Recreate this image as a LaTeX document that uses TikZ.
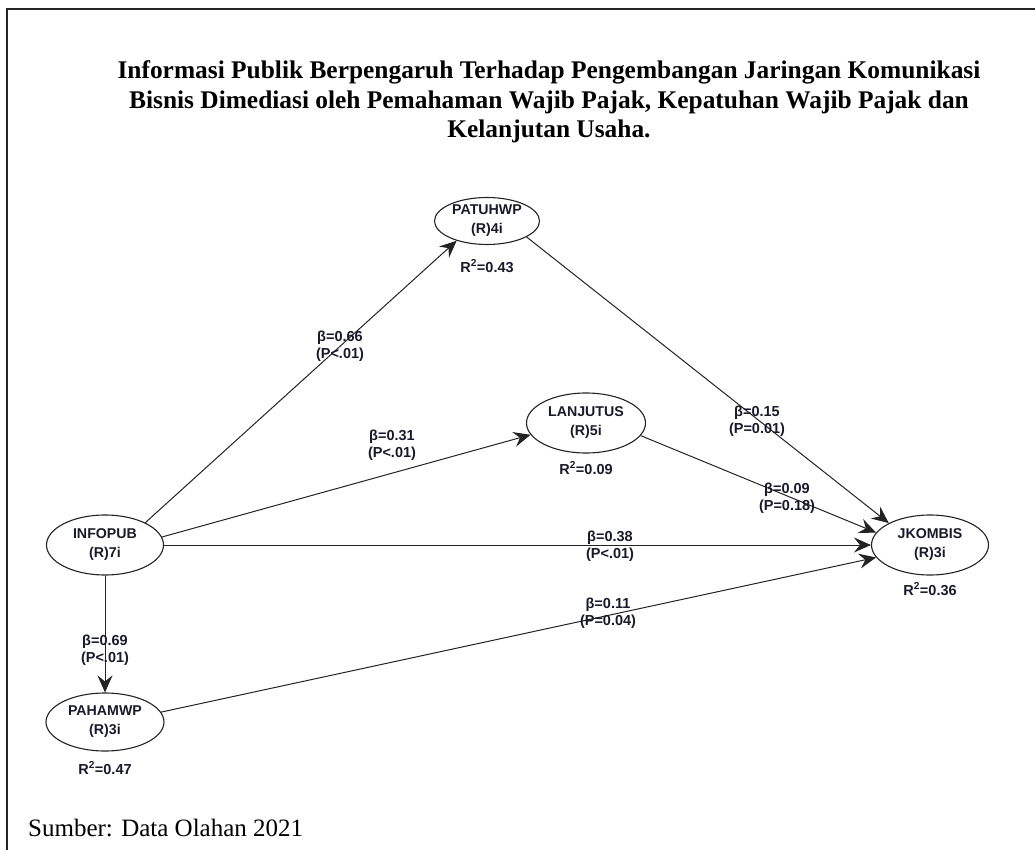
\documentclass[tikz,border=0pt]{standalone}
\usepackage{fontspec}
\setmainfont{Liberation Serif}
\newfontfamily\lblfont{Liberation Sans}
\usetikzlibrary{arrows.meta,shapes.geometric}
\definecolor{ink}{RGB}{25,25,45}
\definecolor{edgecol}{RGB}{35,35,35}
\begin{document}
\begin{tikzpicture}[x=1pt,y=-1pt,
  latent/.style={ellipse, draw=edgecol, line width=1.1pt, inner sep=0pt, align=center,
    text=ink, font=\lblfont\bfseries\fontsize{14.2}{19}\selectfont},
  pathline/.style={draw=edgecol, line width=1pt, -{Stealth[length=17pt,width=15pt,inset=6pt]}},
  coef/.style={align=center, text=ink, inner sep=0pt,
    font=\lblfont\bfseries\fontsize{14.5}{17}\selectfont},
  rsq/.style={text=ink, inner sep=0pt, font=\lblfont\bfseries\fontsize{14.5}{16}\selectfont},
  frameline/.style={draw=black!85, line width=1.6pt}
]
\useasboundingbox (0,0) rectangle (1035,850);

% page frame
\draw[frameline] (7,850) -- (7,9) -- (1035,9);

% title
\node[align=center, font=\bfseries\fontsize{25.4}{29.5}\selectfont] (title) at (549,102)
  {Informasi Publik Berpengaruh Terhadap Pengembangan Jaringan Komunikasi\\
   Bisnis Dimediasi oleh Pemahaman Wajib Pajak, Kepatuhan Wajib Pajak dan\\
   Kelanjutan Usaha.};

% latent variables
\node[latent, minimum width=105pt, minimum height=47pt] (patuh) at (487,221) {PATUHWP\\(R)4i};
\node[latent, minimum width=119pt, minimum height=60pt] (lanjut) at (586,423) {LANJUTUS\\(R)5i};
\node[latent, minimum width=117pt, minimum height=60pt] (info) at (105,545) {INFOPUB\\(R)7i};
\node[latent, minimum width=117pt, minimum height=60pt] (jkom) at (930,545) {JKOMBIS\\(R)3i};
\node[latent, minimum width=118pt, minimum height=58pt] (paham) at (105,722) {PAHAMWP\\(R)3i};

% explained variance
\node[rsq] (r2patuh) at (487,266) {R\textsuperscript{2}=0.43};
\node[rsq] (r2lanjut) at (586,468) {R\textsuperscript{2}=0.09};
\node[rsq] (r2jkom) at (930,589) {R\textsuperscript{2}=0.36};
\node[rsq] (r2paham) at (105,768) {R\textsuperscript{2}=0.47};

% structural paths
\draw[pathline] (info.29) -- (patuh.213);
\draw[pathline] (info.8) -- (lanjut.192);
\draw[pathline] (info) -- (jkom);
\draw[pathline] (info) -- (paham);
\draw[pathline] (paham.10) -- (jkom.193);
\draw[pathline] (patuh.-22) -- (jkom.152);
\draw[pathline] (lanjut.-13) -- (jkom.167);

% path coefficients
\node[coef] (c1) at (340,346) {β=0.66\\(P<.01)};
\node[coef] (c2) at (392,445) {β=0.31\\(P<.01)};
\node[coef] (c3) at (610,546) {β=0.38\\(P<.01)};
\node[coef] (c4) at (105,650) {β=0.69\\(P<.01)};
\node[coef] (c5) at (608,613) {β=0.11\\(P=0.04)};
\node[coef] (c6) at (757,421) {β=0.15\\(P=0.01)};
\node[coef] (c7) at (787,498) {β=0.09\\(P=0.18)};

% source note
\node[anchor=base west, font=\fontsize{25}{30}\selectfont, inner sep=0pt] (src) at (28,836) {Sumber: Data Olahan 2021};
\end{tikzpicture}
\end{document}
